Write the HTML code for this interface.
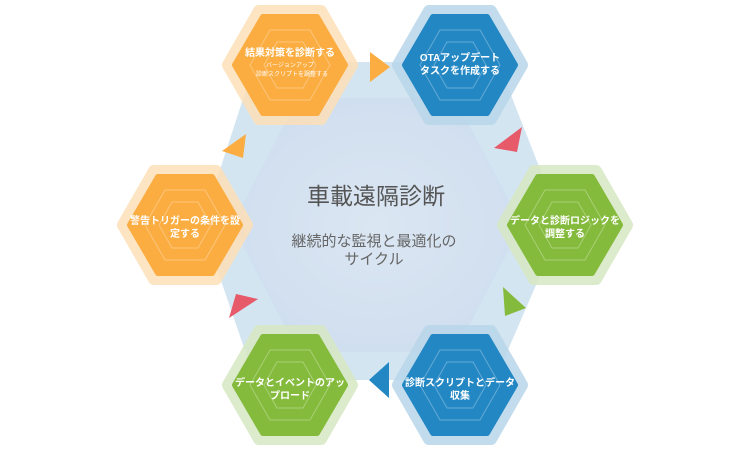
<!DOCTYPE html>
<html><head><meta charset="utf-8"><style>
html,body{margin:0;padding:0;background:#fff;width:750px;height:450px;overflow:hidden}
svg{display:block}
text{font-family:"Liberation Sans","Noto Sans CJK JP",sans-serif}
</style></head><body>
<svg width="750" height="450" viewBox="0 0 750 450" xmlns="http://www.w3.org/2000/svg">
<defs>
<radialGradient id="cg" cx="50%" cy="50%" r="55%">
<stop offset="0" stop-color="#dbe6f2"/><stop offset="1" stop-color="#cfdeef"/>
</radialGradient>
<g id="rings">
<polygon points="-40,0 -20,-35 20,-35 40,0 20,35 -20,35" fill="none" stroke="#fff" stroke-opacity="0.3" stroke-width="1"/>
<polygon points="-26,0 -13,-23 13,-23 26,0 13,23 -13,23" fill="none" stroke="#fff" stroke-opacity="0.3" stroke-width="1"/>
</g>
<polygon id="outer" points="-62,0 -31,-54 31,-54 62,0 31,54 -31,54" stroke-width="12" stroke-linejoin="round"/>
<polygon id="inner" points="-55,0 -27,-48 27,-48 55,0 27,48 -27,48" stroke-width="6" stroke-linejoin="round"/>
</defs>
<polygon points="255,62 498,62 562,225 495,380 255,380 202,225" fill="#d3e5f1"/>
<polygon points="298,98 455,98 522,225 455,352 298,352 232,225" fill="url(#cg)"/>

<g transform="translate(290,65)"><use href="#outer" fill="#fde0b8" stroke="#fde0b8" opacity="0.85"/><use href="#inner" fill="#fbad41" stroke="#fbad41"/><use href="#rings"/></g>
<g transform="translate(460,65)"><use href="#outer" fill="#b9d6ea" stroke="#b9d6ea" opacity="0.85"/><use href="#inner" fill="#2387c4" stroke="#2387c4"/><use href="#rings"/></g>
<g transform="translate(565,225)"><use href="#outer" fill="#d7e8c4" stroke="#d7e8c4" opacity="0.85"/><use href="#inner" fill="#84bb3c" stroke="#84bb3c"/><use href="#rings"/></g>
<g transform="translate(460,385)"><use href="#outer" fill="#b9d6ea" stroke="#b9d6ea" opacity="0.85"/><use href="#inner" fill="#2387c4" stroke="#2387c4"/><use href="#rings"/></g>
<g transform="translate(290,385)"><use href="#outer" fill="#d7e8c4" stroke="#d7e8c4" opacity="0.85"/><use href="#inner" fill="#84bb3c" stroke="#84bb3c"/><use href="#rings"/></g>
<g transform="translate(185,225)"><use href="#outer" fill="#fde0b8" stroke="#fde0b8" opacity="0.85"/><use href="#inner" fill="#fbad41" stroke="#fbad41"/><use href="#rings"/></g>

<polygon points="370,52 390,67 370,82" fill="#fbad41"/>
<polygon points="522,127 517,152 494,148" fill="#e65a6a"/>
<polygon points="503,287 526,308 505,316" fill="#84bb3c"/>
<polygon points="389,362 389,398 369,380" fill="#2387c4"/>
<polygon points="229,318 236,294 258,299" fill="#e65a6a"/>
<polygon points="246,134 243,158 222,151" fill="#fbad41"/>

<g fill="#fff" font-weight="bold" font-size="10" text-anchor="middle">
<text x="290" y="56">結果対策を診断する</text>
<text x="290" y="67" font-size="6" font-weight="normal">バージョンアップ</text>
<text x="292" y="76" font-size="6" font-weight="normal">診断スクリプトを調整する</text>
<text x="460" y="61">OTAアップデート</text>
<text x="460" y="74">タスクを作成する</text>
<text x="565" y="224">データと診断ロジックを</text>
<text x="565" y="237">調整する</text>
<text x="460" y="386">診断スクリプトとデータ</text>
<text x="460" y="399">収集</text>
<text x="290" y="386">データとイベントのアッ</text>
<text x="290" y="399">プロード</text>
<text x="185" y="224">警告トリガーの条件を設</text>
<text x="185" y="237">定する</text>
</g>
<text x="376" y="204" text-anchor="middle" font-size="23" fill="#555">車載遠隔診断</text>
<text x="374" y="246" text-anchor="middle" font-size="15" fill="#666">継続的な監視と最適化の</text>
<text x="374" y="264" text-anchor="middle" font-size="15" fill="#666">サイクル</text>
</svg>
</body></html>
